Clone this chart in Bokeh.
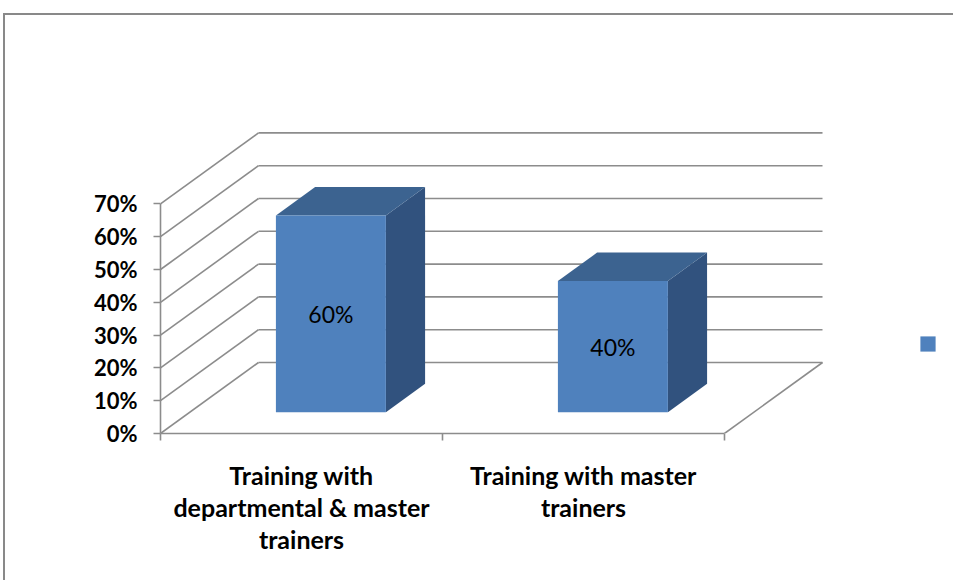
from bokeh.plotting import figure
from bokeh.models import (Range1d, FixedTicker, NumeralTickFormatter, Legend,
                          LegendItem)
from bokeh.core.properties import value
from bokeh.embed import file_html
from bokeh.resources import INLINE

# ---------------- data ----------------
categories = ["Training with\ndepartmental & master\ntrainers",
              "Training with master\ntrainers"]
values = [0.60, 0.40]
value_labels = ["60%", "40%"]
y_ticks = [0.0, 0.1, 0.2, 0.3, 0.4, 0.5, 0.6, 0.7]
series_name = " "

# ---------------- layout constants (page pixels) ----------------
CX, CY = 5, 15                  # canvas origin (after margin + border)
W, H = 955 - CX, 582 - CY
AXIS_X, AXIS_Y = 160, 433       # y-axis x, 0% y
CAT_PX = 282                    # px per category
UNIT_PX = 328                   # px per 100%
DEPTH_DX, DEPTH_DY = 98, 71     # full-depth oblique offset
TOP_PAGE = 30
BAR_W = 0.39
D0, D1 = 0.30, 0.70

ddx = DEPTH_DX / CAT_PX
ddy = DEPTH_DY / UNIT_PX
n = len(categories)

GRID = "#8c8c8c"
FRONT = "#4F81BD"
TOP = "#3C6390"
SIDE = "#31527E"

p = figure(width=W, height=H, output_backend="svg", toolbar_location=None,
           x_range=Range1d(0, (955 - AXIS_X) / CAT_PX),
           y_range=Range1d(0, (AXIS_Y - TOP_PAGE) / UNIT_PX),
           min_border_left=AXIS_X - CX, min_border_right=0,
           min_border_top=TOP_PAGE - CY, min_border_bottom=582 - AXIS_Y)
p.margin = (13, 0, 0, 3)
p.styles = {"border-top": "2px solid #898989", "border-left": "2px solid #898989"}
p.outline_line_color = None
p.grid.visible = False
p.background_fill_color = "white"
p.border_fill_color = "white"

# ---------------- 3D walls ----------------
p.segment(x0=[ddx] * len(y_ticks), y0=[v + ddy for v in y_ticks],
          x1=[n + ddx] * len(y_ticks), y1=[v + ddy for v in y_ticks],
          line_color=GRID, line_width=1.6)
p.segment(x0=[0] * len(y_ticks), y0=y_ticks,
          x1=[ddx] * len(y_ticks), y1=[v + ddy for v in y_ticks],
          line_color=GRID, line_width=1.6)
p.segment(x0=[n], y0=[0], x1=[n + ddx], y1=[ddy], line_color=GRID, line_width=1.6)

# ---------------- bars ----------------
fx, fy, tx, ty, sx, sy = [], [], [], [], [], []
lx, ly = [], []
for i, v in enumerate(values):
    x0 = i + 0.5 - BAR_W / 2
    x1 = i + 0.5 + BAR_W / 2
    a0x, a0y = D0 * ddx, D0 * ddy
    a1x, a1y = D1 * ddx, D1 * ddy
    fx.append([x0 + a0x, x1 + a0x, x1 + a0x, x0 + a0x])
    fy.append([a0y, a0y, v + a0y, v + a0y])
    tx.append([x0 + a0x, x1 + a0x, x1 + a1x, x0 + a1x])
    ty.append([v + a0y, v + a0y, v + a1y, v + a1y])
    sx.append([x1 + a0x, x1 + a1x, x1 + a1x, x1 + a0x])
    sy.append([a0y, a1y, v + a1y, v + a0y])
    lx.append(i + 0.5 + a0x)
    ly.append(v / 2 + a0y)

p.patches(sx, sy, fill_color=SIDE, line_color=None)
p.patches(tx, ty, fill_color=TOP, line_color=None)
front = p.patches(fx, fy, fill_color=FRONT, line_color=None)

p.text(x=lx, y=ly, text=value_labels, text_font=value("Lato"),
       text_font_size="23px", text_align="center", text_baseline="middle",
       text_color="black")

# ---------------- axes ----------------
ya = p.yaxis[0]
ya.ticker = FixedTicker(ticks=y_ticks)
ya.formatter = NumeralTickFormatter(format="0%")
ya.bounds = (0, y_ticks[-1])
ya.axis_line_color = GRID
ya.axis_line_width = 1.6
ya.major_tick_line_color = GRID
ya.major_tick_line_width = 1.6
ya.major_tick_out = 7
ya.major_tick_in = 0
ya.minor_tick_line_color = None
ya.major_label_standoff = 16
ya.major_label_text_font = "Lato"
ya.major_label_text_font_style = "bold"
ya.major_label_text_font_size = "22px"
ya.major_label_text_color = "black"

xa = p.xaxis[0]
centers = [i + 0.5 for i in range(n)]
xa.ticker = FixedTicker(ticks=centers, minor_ticks=list(range(n + 1)))
xa.major_label_overrides = {c: lab for c, lab in zip(centers, categories)}
xa.bounds = (0, n)
xa.axis_line_color = GRID
xa.axis_line_width = 1.6
xa.major_tick_line_color = None
xa.major_tick_out = 0
xa.major_tick_in = 0
xa.minor_tick_line_color = GRID
xa.minor_tick_line_width = 1.6
xa.minor_tick_out = 7
xa.minor_tick_in = 0
xa.major_label_standoff = 19
xa.major_label_text_font = "Lato"
xa.major_label_text_font_style = "bold"
xa.major_label_text_font_size = "25px"
xa.major_label_text_line_height = 1.08
xa.major_label_text_align = "center"
xa.major_label_text_color = "black"

# ---------------- legend ----------------
legend = Legend(items=[LegendItem(label=series_name, renderers=[front])],
                location=(758, 80), glyph_width=19, glyph_height=19,
                padding=0, margin=0, spacing=0, label_standoff=0,
                label_text_font_size="1px", label_width=0, label_height=19,
                border_line_color=None, background_fill_alpha=0)
p.add_layout(legend)

open("out.html", "w").write(file_html(p, INLINE))
